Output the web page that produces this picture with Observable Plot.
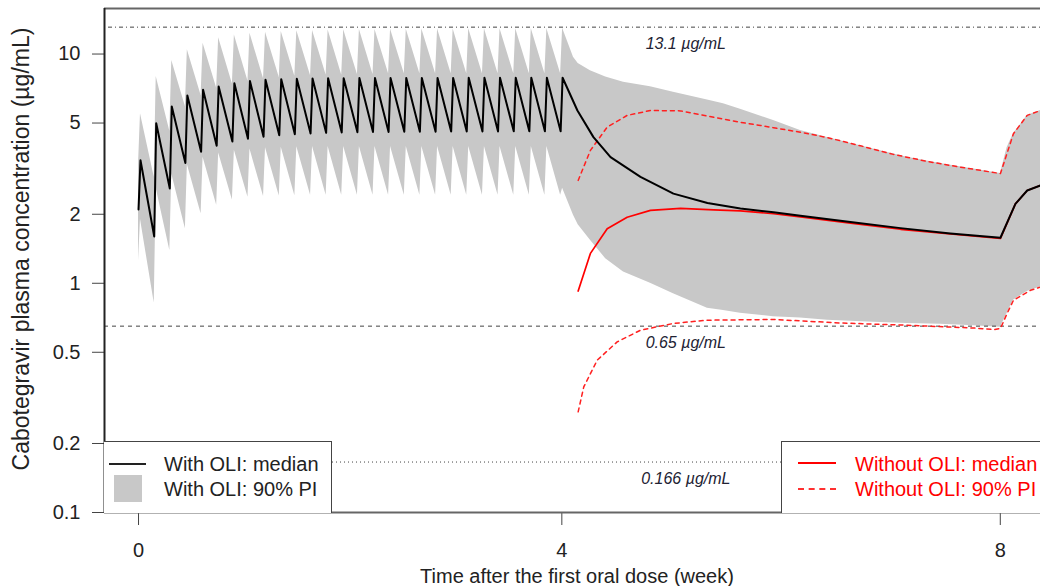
<!DOCTYPE html>
<html><head><meta charset="utf-8">
<script src="https://cdn.jsdelivr.net/npm/d3@7"></script>
<script src="https://cdn.jsdelivr.net/npm/@observablehq/plot@0.6"></script>
<style>
body{margin:0;background:#fff;font-family:"Liberation Sans",Arial,sans-serif;}
#wrap{position:relative;width:1040px;height:586px;overflow:hidden;background:#fff;}
.lg{position:absolute;background:#fff;border:1.5px solid #444;box-sizing:border-box;}
.lt{position:absolute;font-size:20px;line-height:20px;white-space:nowrap;color:#222;}
.title{position:absolute;font-size:20px;white-space:nowrap;color:#222;line-height:1;}
</style></head>
<body><div id="wrap"></div>
<script>
// ---- data (days after first oral dose) ----
const oralTroughDay = [0, 1.04, 2.07, 3.10, 4.14, 5.17, 6.21, 7.24, 8.27, 9.31, 10.34, 11.38, 12.41, 13.44, 14.48, 15.51, 16.54, 17.58, 18.61, 19.65, 20.68, 21.71, 22.75, 23.78, 24.82, 25.85, 26.88, 27.92];
const oralPeakDay = [0.13, 1.17, 2.20, 3.23, 4.27, 5.30, 6.34, 7.37, 8.40, 9.44, 10.47, 11.51, 12.54, 13.57, 14.61, 15.64, 16.67, 17.71, 18.74, 19.78, 20.81, 21.84, 22.88, 23.91, 24.95, 25.98, 27.01, 28.05];
const withMedianTrough = [2.10, 1.60, 2.59, 3.35, 3.75, 3.98, 4.15, 4.27, 4.36, 4.42, 4.47, 4.50, 4.53, 4.55, 4.56, 4.57, 4.57, 4.58, 4.58, 4.58, 4.59, 4.59, 4.59, 4.59, 4.60, 4.60, 4.60, 4.60];
const withMedianPeak = [3.44, 4.99, 5.91, 6.59, 6.98, 7.22, 7.46, 7.62, 7.72, 7.77, 7.80, 7.82, 7.84, 7.85, 7.86, 7.86, 7.86, 7.87, 7.87, 7.87, 7.87, 7.88, 7.88, 7.88, 7.88, 7.88, 7.88, 7.88];
const withUpperTrough = [3.3, 2.9, 4.6, 5.9, 6.6, 7.1, 7.4, 7.6, 7.8, 7.9, 8.0, 8.05, 8.1, 8.1, 8.15, 8.15, 8.2, 8.2, 8.2, 8.2, 8.2, 8.2, 8.2, 8.2, 8.2, 8.2, 8.2, 8.2];
const withUpperPeak = [5.49, 7.98, 9.37, 10.43, 11.15, 11.77, 12.12, 12.32, 12.45, 12.55, 12.62, 12.68, 12.72, 12.75, 12.78, 12.80, 12.82, 12.84, 12.85, 12.86, 12.87, 12.88, 12.88, 12.89, 12.89, 12.90, 12.90, 12.95];
const withLowerTrough = [1.25, 0.82, 1.39, 1.73, 2.01, 2.19, 2.31, 2.37, 2.39, 2.40, 2.41, 2.42, 2.42, 2.42, 2.42, 2.42, 2.42, 2.42, 2.42, 2.42, 2.42, 2.42, 2.42, 2.42, 2.42, 2.42, 2.42, 2.42];
const withLowerPeak = [1.9, 2.6, 3.0, 3.3, 3.55, 3.7, 3.8, 3.85, 3.9, 3.92, 3.94, 3.95, 3.95, 3.95, 3.95, 3.95, 3.95, 3.95, 3.95, 3.95, 3.95, 3.95, 3.95, 3.95, 3.95, 3.95, 3.95, 2.6];

const postMedianDay = [29.03, 30.09, 31.22, 33.20, 35.38, 37.63, 39.81, 42.00, 43.78, 47.09, 50.40, 53.70, 57.01, 58.00, 58.78, 59.66];
const postMedian = [5.67, 4.34, 3.55, 2.91, 2.46, 2.24, 2.12, 2.04, 1.97, 1.85, 1.74, 1.65, 1.58, 2.22, 2.54, 2.67];
const postBandDay = [28.77, 29.08, 29.89, 30.90, 32.08, 33.86, 35.38, 37.63, 38.69, 39.81, 42.00, 43.78, 45.57, 48.61, 50.84, 53.04, 55.24, 57.01, 57.45, 57.87, 58.78, 59.66];
const postBandHi = [9.68, 9.10, 8.46, 7.95, 7.53, 7.20, 6.81, 6.30, 6.07, 5.75, 5.13, 4.64, 4.32, 3.85, 3.55, 3.33, 3.15, 3.01, 3.9, 4.49, 5.40, 5.67];
const postBandLo = [1.98, 1.80, 1.54, 1.28, 1.12, 1.00, 0.90, 0.778, 0.76, 0.740, 0.715, 0.705, 0.69, 0.676, 0.668, 0.663, 0.653, 0.643, 0.738, 0.843, 0.92, 0.963];

const noOliMedianDay = [29.08, 29.89, 31.00, 32.32, 33.86, 35.85, 38.05, 39.81, 42.00, 43.78, 47.09, 50.40, 53.70, 57.01, 58.00, 58.78, 59.66];
const noOliMedian = [0.925, 1.35, 1.73, 1.94, 2.08, 2.12, 2.09, 2.07, 2.01, 1.95, 1.83, 1.72, 1.64, 1.57, 2.22, 2.54, 2.67];
const noOliUpperDay = [29.08, 29.89, 31.00, 32.32, 33.86, 35.85, 38.05, 39.81, 41.13, 42.00, 43.78, 45.57, 47.75, 49.93, 52.18, 54.37, 57.01, 57.87, 58.78, 59.66];
const noOliUpper = [2.81, 3.80, 4.80, 5.40, 5.67, 5.65, 5.30, 5.04, 4.88, 4.77, 4.56, 4.32, 3.98, 3.65, 3.40, 3.21, 3.01, 4.49, 5.40, 5.67];
const noOliLowerDay = [29.08, 29.45, 30.34, 31.66, 33.20, 35.38, 37.61, 42.00, 46.43, 50.84, 55.24, 56.57, 57.01, 57.45, 57.87, 59.00, 59.66];
const noOliLower = [0.275, 0.353, 0.462, 0.555, 0.624, 0.668, 0.690, 0.695, 0.671, 0.656, 0.638, 0.628, 0.635, 0.738, 0.843, 0.932, 0.963];

const refValues = [13.1, 0.65, 0.166];
const refLabels = ["13.1 µg/mL", "0.65 µg/mL", "0.166 µg/mL"];
const refLabelDay = [36.2, 36.2, 36.2];
const yTicks = [0.1, 0.2, 0.5, 1, 2, 5, 10];
const yTickLabels = ["0.1", "0.2", "0.5", "1", "2", "5", "10"];
const xTickDays = [0, 28, 57];
const xTickLabels = ["0", "4", "8"];
const xTitle = "Time after the first oral dose (week)";
const yTitle = "Cabotegravir plasma concentration (µg/mL)";
const legendLeft = ["With OLI: median", "With OLI: 90% PI"];
const legendRight = ["Without OLI: median", "Without OLI: 90% PI"];

// ---- build tables ----
const withMedian = [];
const withBand = [];
oralTroughDay.forEach((d, i) => {
  withMedian.push({day: d, v: withMedianTrough[i]});
  withMedian.push({day: oralPeakDay[i], v: withMedianPeak[i]});
  withBand.push({day: d, lo: withLowerTrough[i], hi: withUpperTrough[i]});
  withBand.push({day: oralPeakDay[i], lo: withLowerPeak[i], hi: withUpperPeak[i]});
});
postMedianDay.forEach((d, i) => withMedian.push({day: d, v: postMedian[i]}));
postBandDay.forEach((d, i) => withBand.push({day: d, lo: postBandLo[i], hi: postBandHi[i]}));
const noMed = noOliMedianDay.map((d, i) => ({day: d, v: noOliMedian[i]}));
const noUp = noOliUpperDay.map((d, i) => ({day: d, v: noOliUpper[i]}));
const noLo = noOliLowerDay.map((d, i) => ({day: d, v: noOliLower[i]}));
const refs = refValues.map((v, i) => ({v, label: refLabels[i], day: refLabelDay[i]}));
const yMap = new Map(yTicks.map((t, i) => [t, yTickLabels[i]]));
const xMap = new Map(xTickDays.map((t, i) => [t, xTickLabels[i]]));

const xDomain = [-2.25, 59.66];
const yDomain = [0.1, 15.8];

const chart = Plot.plot({
  width: 1040, height: 586,
  marginLeft: 104, marginRight: 0, marginTop: 8, marginBottom: 74,
  x: {domain: xDomain},
  y: {type: "log", domain: yDomain},
  style: {fontFamily: "Liberation Sans, Arial, sans-serif", fontSize: "20px", color: "#222", background: "#fff", overflow: "visible"},
  marks: [
    Plot.areaY(withBand, {x: "day", y1: "lo", y2: "hi", fill: "#c8c8c8"}),
    Plot.ruleY([refValues[0]], {stroke: "#444", strokeWidth: 1, strokeDasharray: "1,3,4,3"}),
    Plot.ruleY([refValues[1]], {stroke: "#444", strokeWidth: 1, strokeDasharray: "4,4"}),
    Plot.ruleY([refValues[2]], {stroke: "#444", strokeWidth: 1, strokeDasharray: "1,3"}),
    Plot.text(refs, {x: "day", y: "v", text: "label", dy: 17, fontStyle: "italic", fontSize: 16, fill: "#223"}),
    Plot.line(noUp, {x: "day", y: "v", stroke: "#ff2020", strokeWidth: 1.5, strokeDasharray: "4,4"}),
    Plot.line(noLo, {x: "day", y: "v", stroke: "#ff2020", strokeWidth: 1.5, strokeDasharray: "4,4"}),
    Plot.line(noMed, {x: "day", y: "v", stroke: "#ff0000", strokeWidth: 1.7}),
    Plot.line(withMedian, {x: "day", y: "v", stroke: "#000", strokeWidth: 2}),
    Plot.axisY({ticks: yTicks, tickFormat: d => yMap.get(d), tickSize: 12, tickPadding: 12, fontSize: 20, label: null, stroke: "#444"}),
    Plot.axisX({ticks: xTickDays, tickFormat: d => xMap.get(d), tickSize: 13, tickPadding: 17, fontSize: 20, label: null, stroke: "#444"}),
    Plot.ruleY([yDomain[1]], {stroke: "#666", strokeWidth: 2}),
    Plot.ruleY([yDomain[0]], {stroke: "#666", strokeWidth: 2}),
    Plot.ruleX([xDomain[0]], {stroke: "#222", strokeWidth: 2})
  ]
});

const wrap = document.getElementById("wrap");
wrap.appendChild(chart);

function add(html) { wrap.insertAdjacentHTML("beforeend", html); }
// legends
add(`<div class="lg" style="left:104px;top:441px;width:228px;height:72px;border-left:none;border-bottom:none;"></div>`);
add(`<div style="position:absolute;left:109px;top:463px;width:37px;height:2px;background:#222;"></div>`);
add(`<div style="position:absolute;left:114px;top:475px;width:28px;height:27px;background:#c8c8c8;"></div>`);
add(`<div class="lt" style="left:164px;top:454px;">${legendLeft[0]}</div>`);
add(`<div class="lt" style="left:164px;top:479px;">${legendLeft[1]}</div>`);
add(`<div class="lg" style="left:781px;top:441px;width:300px;height:72px;border-bottom:none;"></div>`);
add(`<div style="position:absolute;left:798px;top:462px;width:38px;height:2px;background:#ff0000;"></div>`);
add(`<div style="position:absolute;left:798px;top:488px;width:38px;height:0;border-top:2px dashed #ff3030;"></div>`);
add(`<div class="lt" style="left:855px;top:454px;color:#ff0000;">${legendRight[0]}</div>`);
add(`<div class="lt" style="left:855px;top:479px;color:#ff0000;">${legendRight[1]}</div>`);
// axis titles
add(`<div class="title" style="left:577px;top:576px;transform:translate(-50%,-50%);">${xTitle}</div>`);
add(`<div class="title" style="left:21px;top:249px;font-size:23px;transform:translate(-50%,-50%) rotate(-90deg);">${yTitle}</div>`);
</script>
</body></html>
